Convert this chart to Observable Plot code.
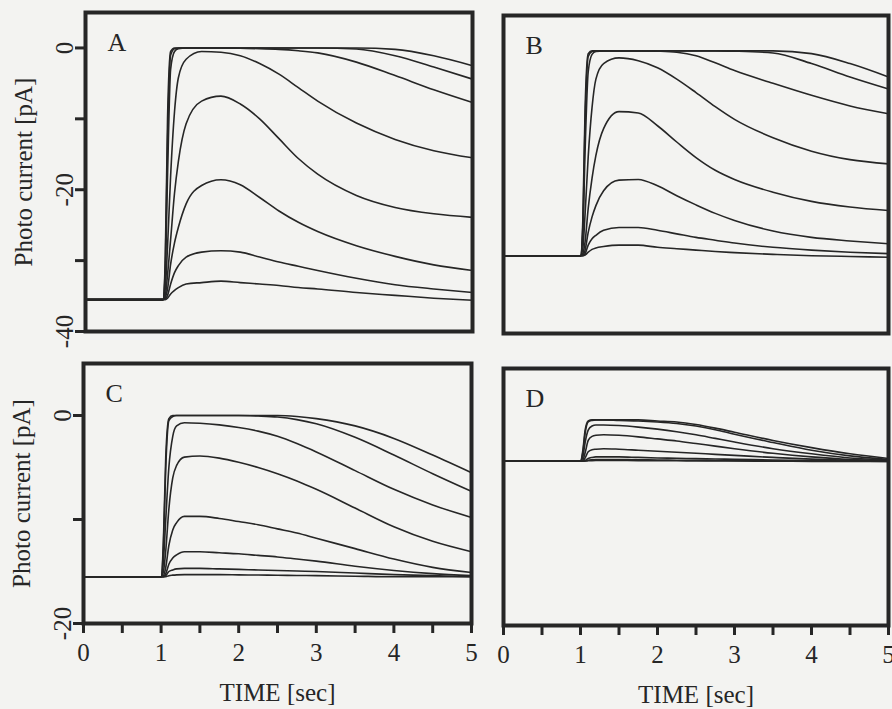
<!DOCTYPE html>
<html>
<head>
<meta charset="utf-8">
<script src="https://cdn.jsdelivr.net/npm/d3@7"></script>
<script src="https://cdn.jsdelivr.net/npm/@observablehq/plot@0.6"></script>
<style>
  html, body { margin: 0; padding: 0; background: #f3f3f1; }
  #fig { position: relative; width: 892px; height: 709px; overflow: hidden; }
  #fig > div { position: absolute; left: 0; top: 0; width: 892px; height: 709px; }
</style>
</head>
<body>
<div id="fig"></div>
<script>
// ---- data (time in sec, photo current in pA) ----
const time = [0, 1, 1.03, 1.06, 1.1, 1.15, 1.2, 1.3, 1.5, 1.75, 2, 2.25, 2.5, 2.75, 3, 3.5, 4, 4.5, 5];

const A1 = [-35.5, -35.5, -30, -10, -0.5, 0, 0, 0, 0, 0, 0, 0, 0, 0, 0, 0, -0.2, -1.1, -2.5];
const A2 = [-35.5, -35.5, -31, -13, -1, -0.1, 0, 0, 0, 0, 0, 0, 0, 0, 0, -0.15, -1.1, -2.7, -4.4];
const A3 = [-35.5, -35.5, -32, -18, -3, -0.5, -0.1, 0, 0, 0, -0.05, -0.1, -0.2, -0.4, -0.7, -2.0, -3.9, -5.9, -7.7];
const A4 = [-35.5, -35.5, -34, -28, -18, -9, -4.2, -1.6, -0.5, -0.6, -1.1, -2.2, -3.7, -5.6, -7.5, -10.6, -12.9, -14.5, -15.5];
const A5 = [-35.5, -35.5, -35, -32, -27, -20.5, -16, -10.7, -7.5, -6.8, -7.9, -10.0, -12.8, -15.6, -17.8, -20.8, -22.5, -23.4, -23.9];
const A6 = [-35.5, -35.5, -35.2, -34, -30.5, -27.5, -25.3, -22.0, -19.4, -18.6, -19.3, -21.1, -23.0, -24.6, -25.9, -27.9, -29.4, -30.6, -31.4];
const A7 = [-35.5, -35.5, -35.4, -34.9, -33.3, -31.7, -30.7, -29.5, -28.8, -28.6, -28.8, -29.5, -30.2, -30.8, -31.4, -32.5, -33.4, -34.0, -34.5];
const A8 = [-35.5, -35.5, -35.5, -35.3, -34.7, -34.2, -33.8, -33.3, -33.1, -32.9, -33.1, -33.3, -33.5, -33.8, -34.0, -34.5, -34.9, -35.3, -35.6];

const B1 = [-29, -29, -24, -8, -0.4, 0, 0, 0, 0, 0, 0, 0, 0, 0, 0, 0, -0.4, -1.8, -3.7];
const B2 = [-29, -29, -25, -10, -0.8, -0.1, 0, 0, 0, 0, 0, 0, 0, 0, -0.05, -0.3, -1.8, -3.7, -5.4];
const B3 = [-29, -29, -26, -14, -3, -0.5, -0.1, 0, 0, 0, -0.05, -0.2, -0.7, -1.7, -2.8, -4.6, -6.3, -7.8, -8.9];
const B4 = [-29, -29, -28, -23, -15, -8, -4.0, -1.8, -1.0, -1.4, -2.4, -4.0, -5.9, -7.9, -9.7, -12.3, -14.2, -15.4, -16.0];
const B5 = [-29, -29, -28.7, -27, -22.3, -18, -14.8, -11.0, -8.6, -8.8, -10.6, -12.9, -15.1, -16.9, -18.2, -20.0, -21.3, -22.1, -22.6];
const B6 = [-29, -29, -28.9, -28.2, -25.7, -23.5, -21.9, -19.8, -18.3, -18.2, -19.1, -20.5, -21.8, -23.0, -24.0, -25.5, -26.4, -26.9, -27.3];
const B7 = [-29, -29, -29, -28.7, -27.5, -26.6, -26.1, -25.4, -25.0, -25.0, -25.4, -25.9, -26.4, -26.8, -27.2, -27.8, -28.2, -28.5, -28.7];
const B8 = [-29, -29, -29, -28.9, -28.5, -28.1, -27.9, -27.7, -27.5, -27.5, -27.8, -28.0, -28.2, -28.4, -28.55, -28.8, -29.0, -29.1, -29.2];

const C1 = [-15.5, -15.5, -12, -4, -0.3, 0, 0, 0, 0, 0, 0, 0, 0, -0.1, -0.3, -1.0, -2.2, -3.8, -5.5];
const C2 = [-15.5, -15.5, -12.5, -5, -0.5, -0.1, 0, 0, 0, 0, 0, -0.05, -0.15, -0.4, -0.8, -2.1, -3.8, -5.6, -7.3];
const C3 = [-15.5, -15.5, -14, -10, -5, -2, -1.0, -0.7, -0.75, -0.9, -1.15, -1.5, -2.0, -2.7, -3.5, -5.3, -7.1, -8.6, -9.8];
const C4 = [-15.5, -15.5, -15, -13, -9, -6, -4.8, -4.0, -3.9, -4.1, -4.5, -5.0, -5.6, -6.3, -7.1, -8.9, -10.7, -12.1, -13.1];
const C5 = [-15.5, -15.5, -15.4, -14.6, -12.5, -11, -10.3, -9.7, -9.7, -9.9, -10.2, -10.5, -10.9, -11.3, -11.8, -12.8, -13.8, -14.6, -15.1];
const C6 = [-15.5, -15.5, -15.5, -15.2, -14.3, -13.7, -13.4, -13.1, -13.1, -13.2, -13.3, -13.45, -13.6, -13.8, -14.0, -14.5, -14.9, -15.2, -15.4];
const C7 = [-15.5, -15.5, -15.5, -15.4, -15.0, -14.85, -14.75, -14.7, -14.7, -14.75, -14.8, -14.85, -14.9, -14.95, -15.0, -15.15, -15.3, -15.4, -15.5];
const C8 = [-15.5, -15.5, -15.5, -15.5, -15.4, -15.35, -15.32, -15.3, -15.3, -15.3, -15.32, -15.34, -15.36, -15.38, -15.4, -15.45, -15.5, -15.5, -15.5];

const D1 = [-4, -4, -3, -1, -0.1, 0, 0, 0, 0, 0, -0.1, -0.2, -0.45, -0.8, -1.2, -2.0, -2.7, -3.3, -3.75];
const D2 = [-4, -4, -3.2, -1.3, -0.2, -0.05, 0, 0, -0.05, -0.1, -0.2, -0.35, -0.6, -0.95, -1.4, -2.2, -2.95, -3.5, -3.85];
const D3 = [-4, -4, -3.6, -2.2, -1.0, -0.6, -0.5, -0.5, -0.55, -0.7, -0.9, -1.15, -1.45, -1.8, -2.15, -2.8, -3.3, -3.7, -3.9];
const D4 = [-4, -4, -3.9, -3.2, -2.0, -1.6, -1.5, -1.45, -1.5, -1.65, -1.85, -2.05, -2.3, -2.55, -2.8, -3.25, -3.6, -3.85, -3.95];
const D5 = [-4, -4, -4, -3.7, -3.1, -2.9, -2.85, -2.8, -2.85, -2.95, -3.05, -3.15, -3.25, -3.35, -3.45, -3.65, -3.82, -3.93, -4.0];
const D6 = [-4, -4, -4, -3.95, -3.75, -3.65, -3.6, -3.6, -3.6, -3.65, -3.7, -3.73, -3.77, -3.8, -3.83, -3.9, -3.95, -4.0, -4.02];
const D7 = [-4, -4, -4, -4, -3.92, -3.88, -3.86, -3.85, -3.86, -3.88, -3.9, -3.92, -3.93, -3.95, -3.96, -3.98, -4.0, -4.02, -4.03];
const D8 = [-4, -4, -4, -4, -3.98, -3.96, -3.95, -3.95, -3.95, -3.96, -3.97, -3.98, -3.99, -4.0, -4.0, -4.02, -4.03, -4.04, -4.05];

const yTicksTop = [0, -10, -20, -30, -40];
const yTicksBottom = [0, -10, -20];
const xTicks = [0, 0.5, 1, 1.5, 2, 2.5, 3, 3.5, 4, 4.5, 5];
const yLabel = "Photo current [pA]";
const xLabel = "TIME [sec]";
const letters = ["A", "B", "C", "D"];

// ---- drawing ----
const ink = "#262626";
const W = 892, H = 709;
const font = "'Liberation Serif', 'Times New Roman', serif";

function rows(series) {
  return series.flatMap((vals, k) => vals.map((v, j) => ({t: time[j], v, k})));
}

function panel({series, letter, box, yDomain, yTicks, showX}) {
  const [left, right, top, bottom] = box;
  const marks = [
    Plot.line(rows(series), {x: "t", y: "v", z: "k", stroke: ink, strokeWidth: 1.6, curve: "monotone-x"}),
    Plot.frame({stroke: ink, strokeWidth: 4}),
    Plot.text([letter], {frameAnchor: "top-left", dx: 22, dy: 20, fontSize: 26, fill: ink})
  ];
  if (yTicks) marks.push(Plot.axisY({
    ticks: yTicks, tickFormat: d => (d % 20 === 0 ? String(d) : ""),
    tickRotate: -90, tickSize: 10, tickPadding: 3, strokeWidth: 3, stroke: ink, fill: ink,
    fontSize: 25, label: yLabel, labelAnchor: "center", labelOffset: 71, labelArrow: "none"
  }));
  if (showX) marks.push(Plot.axisX({
    ticks: xTicks, tickFormat: d => (Number.isInteger(d) ? String(d) : ""),
    tickSize: 10, tickPadding: 10, strokeWidth: 3, stroke: ink, fill: ink,
    fontSize: 25, label: xLabel, labelAnchor: "center", labelOffset: 77, labelArrow: "none"
  }));
  return Plot.plot({
    width: W, height: H,
    marginLeft: left, marginRight: W - right, marginTop: top, marginBottom: H - bottom,
    x: {domain: [0, 5], axis: null},
    y: {domain: yDomain, axis: null},
    style: {background: "transparent", overflow: "visible", fontFamily: font, fontSize: "25px", color: ink},
    marks
  });
}

const fig = document.getElementById("fig");
const panels = [
  {series: [A1, A2, A3, A4, A5, A6, A7, A8], letter: letters[0], box: [85, 472, 12, 331], yDomain: [-40, 5], yTicks: yTicksTop, showX: false},
  {series: [B1, B2, B3, B4, B5, B6, B7, B8], letter: letters[1], box: [503, 888, 15, 333], yDomain: [-40, 5], yTicks: null, showX: false},
  {series: [C1, C2, C3, C4, C5, C6, C7, C8], letter: letters[2], box: [83, 471, 363, 623], yDomain: [-20, 5], yTicks: yTicksBottom, showX: true},
  {series: [D1, D2, D3, D4, D5, D6, D7, D8], letter: letters[3], box: [503, 888, 368, 625], yDomain: [-20, 5], yTicks: null, showX: true}
];
for (const p of panels) {
  const holder = document.createElement("div");
  holder.appendChild(panel(p));
  fig.appendChild(holder);
}
</script>
</body>
</html>
